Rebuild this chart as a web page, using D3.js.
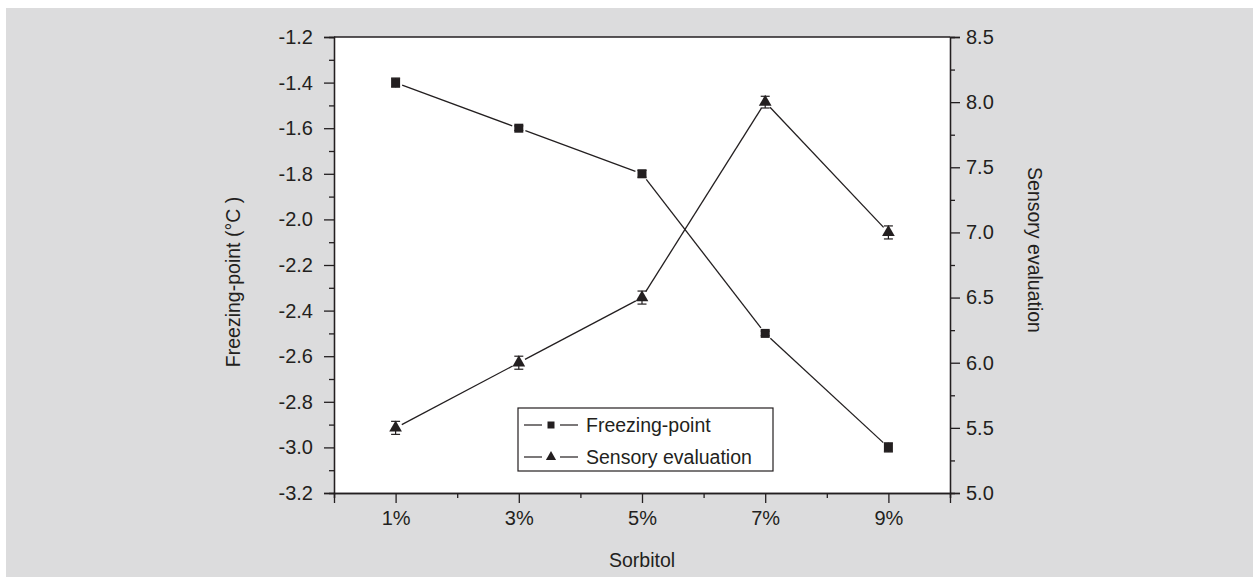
<!DOCTYPE html>
<html>
<head>
<meta charset="utf-8">
<script src="https://cdn.jsdelivr.net/npm/d3@7"></script>
<style>
  body { margin: 0; background: #fff; }
  svg { display: block; font-family: "Liberation Sans", Arial, sans-serif; }
</style>
</head>
<body>
<svg id="chart"></svg>
<script>
const width = 1259;
const height = 577;

// data
const concentrations = [1, 3, 5, 7, 9];
const xTickLabels = ["1%", "3%", "5%", "7%", "9%"];
const freezingPoint = [-1.4, -1.6, -1.8, -2.5, -3.0];
const freezingErr = [0.02, 0.01, 0.015, 0.01, 0.02];
const sensory = [5.5, 6.0, 6.5, 8.0, 7.0];
const sensoryErr = [0.05, 0.05, 0.05, 0.045, 0.05];
const leftTicks = [-3.2, -3.0, -2.8, -2.6, -2.4, -2.2, -2.0, -1.8, -1.6, -1.4, -1.2];
const rightTicks = [5.0, 5.5, 6.0, 6.5, 7.0, 7.5, 8.0, 8.5];

const margin = {top: 37, right: 309, bottom: 84, left: 334};
const ink = "#231f20";

const svg = d3.select('#chart')
    .attr('width', width).attr('height', height);

svg.append('rect')
    .attr('x', 6).attr('y', 8)
    .attr('width', width - 12).attr('height', height - 8)
    .attr('fill', '#dcdcdd');

const x = d3.scaleLinear().domain([0, 10]).range([margin.left, width - margin.right]);
const yL = d3.scaleLinear().domain([-3.2, -1.2]).range([height - margin.bottom, margin.top]);
const yR = d3.scaleLinear().domain([5.0, 8.5]).range([height - margin.bottom, margin.top]);

svg.append('rect')
    .attr('x', x(0)).attr('y', margin.top)
    .attr('width', x(10) - x(0)).attr('height', yL(-3.2) - margin.top)
    .attr('fill', '#fff');

// top border
svg.append('line')
    .attr('x1', x(0)).attr('x2', x(10))
    .attr('y1', margin.top).attr('y2', margin.top)
    .attr('stroke', ink).attr('stroke-width', 1.3);

function styleAxis(g) {
  g.selectAll('.domain').attr('stroke', ink).attr('stroke-width', 1.3);
  g.selectAll('.tick line').attr('stroke', ink).attr('stroke-width', 1.3);
  g.selectAll('.tick text').attr('fill', ink).attr('font-size', 20)
      .attr('font-family', '"Liberation Sans", Arial, sans-serif');
}

// left axis
const leftMinor = d3.range(-3.1, -1.2, 0.2).map(v => +v.toFixed(1));
svg.append('g')
    .attr('transform', `translate(${x(0)},0)`)
    .call(d3.axisLeft(yL).tickValues(leftMinor).tickSize(5).tickFormat(''))
    .call(styleAxis);
svg.append('g')
    .attr('transform', `translate(${x(0)},0)`)
    .call(d3.axisLeft(yL).tickValues(leftTicks).tickSize(10).tickPadding(11)
        .tickFormat(d => d3.format('.1f')(d).replace('−', '-')))
    .call(styleAxis);

// right axis
const rightMinor = d3.range(5.25, 8.5, 0.5);
svg.append('g')
    .attr('transform', `translate(${x(10)},0)`)
    .call(d3.axisRight(yR).tickValues(rightMinor).tickSize(5).tickFormat(''))
    .call(styleAxis);
svg.append('g')
    .attr('transform', `translate(${x(10)},0)`)
    .call(d3.axisRight(yR).tickValues(rightTicks).tickSize(10).tickPadding(6)
        .tickFormat(d3.format('.1f')))
    .call(styleAxis);

// bottom axis
svg.append('g')
    .attr('transform', `translate(0,${yL(-3.2)})`)
    .call(d3.axisBottom(x).tickValues([0, 2, 4, 6, 8, 10]).tickSize(5).tickFormat(''))
    .call(styleAxis);
svg.append('g')
    .attr('transform', `translate(0,${yL(-3.2)})`)
    .call(d3.axisBottom(x).tickValues(concentrations).tickSize(10).tickPadding(8)
        .tickFormat((d, i) => xTickLabels[i]))
    .call(styleAxis);

// axis titles
svg.append('text')
    .attr('transform', `translate(240,282) rotate(-90)`)
    .attr('text-anchor', 'middle').attr('font-size', 19.5).attr('fill', ink)
    .text('Freezing-point (°C )');
svg.append('text')
    .attr('transform', `translate(1028,250) rotate(90)`)
    .attr('text-anchor', 'middle').attr('font-size', 19.5).attr('fill', ink)
    .text('Sensory evaluation');
svg.append('text')
    .attr('x', (x(0) + x(10)) / 2).attr('y', 567)
    .attr('text-anchor', 'middle').attr('font-size', 19.5).attr('fill', ink)
    .text('Sorbitol');

// line segments with a small gap around markers
function drawSeries(values, errs, yScale, symbol, size) {
  const pts = concentrations.map((c, i) => [x(c), yScale(values[i])]);
  const gap = 7;
  const segs = d3.pairs(pts).map(([a, b]) => {
    const dx = b[0] - a[0], dy = b[1] - a[1];
    const len = Math.hypot(dx, dy);
    const ux = dx / len, uy = dy / len;
    return [[a[0] + ux * gap, a[1] + uy * gap], [b[0] - ux * gap, b[1] - uy * gap]];
  });
  svg.append('g').selectAll('path')
      .data(segs).enter().append('path')
      .attr('d', d => d3.line()(d))
      .attr('stroke', ink).attr('stroke-width', 1.3).attr('fill', 'none');

  const err = svg.append('g').selectAll('g')
      .data(concentrations).enter().append('g')
      .attr('stroke', ink).attr('stroke-width', 1.2);
  err.append('line')
      .attr('x1', d => x(d)).attr('x2', d => x(d))
      .attr('y1', (d, i) => yScale(values[i] - errs[i]))
      .attr('y2', (d, i) => yScale(values[i] + errs[i]));
  [-1, 1].forEach(s => {
    err.append('line')
        .attr('x1', d => x(d) - 4.5).attr('x2', d => x(d) + 4.5)
        .attr('y1', (d, i) => yScale(values[i] + s * errs[i]))
        .attr('y2', (d, i) => yScale(values[i] + s * errs[i]));
  });

  svg.append('g').selectAll('path')
      .data(concentrations).enter().append('path')
      .attr('transform', (d, i) => `translate(${x(d)},${yScale(values[i])})`)
      .attr('d', d3.symbol().type(symbol).size(size))
      .attr('fill', ink);
}

drawSeries(freezingPoint, freezingErr, yL, d3.symbolSquare, 81);
drawSeries(sensory, sensoryErr, yR, d3.symbolTriangle, 70);

// legend
const legend = svg.append('g');
legend.append('rect')
    .attr('x', 518).attr('y', 408).attr('width', 255).attr('height', 63)
    .attr('fill', '#fff').attr('stroke', ink).attr('stroke-width', 1.2);
const legendItems = [
  {label: 'Freezing-point', symbol: d3.symbolSquare, size: 49},
  {label: 'Sensory evaluation', symbol: d3.symbolTriangle, size: 45}
];
const rows = legend.selectAll('g.item').data(legendItems).enter().append('g')
    .attr('class', 'item')
    .attr('transform', (d, i) => `translate(0,${425 + i * 32})`);
rows.append('line').attr('x1', 524).attr('x2', 542).attr('y1', 0).attr('y2', 0)
    .attr('stroke', ink).attr('stroke-width', 1.2);
rows.append('line').attr('x1', 560).attr('x2', 578).attr('y1', 0).attr('y2', 0)
    .attr('stroke', ink).attr('stroke-width', 1.2);
rows.append('path')
    .attr('transform', 'translate(551,0)')
    .attr('d', d => d3.symbol().type(d.symbol).size(d.size)())
    .attr('fill', ink);
rows.append('text')
    .attr('x', 586).attr('dy', '0.35em')
    .attr('font-size', 19.5).attr('fill', ink)
    .text(d => d.label);
</script>
</body>
</html>
